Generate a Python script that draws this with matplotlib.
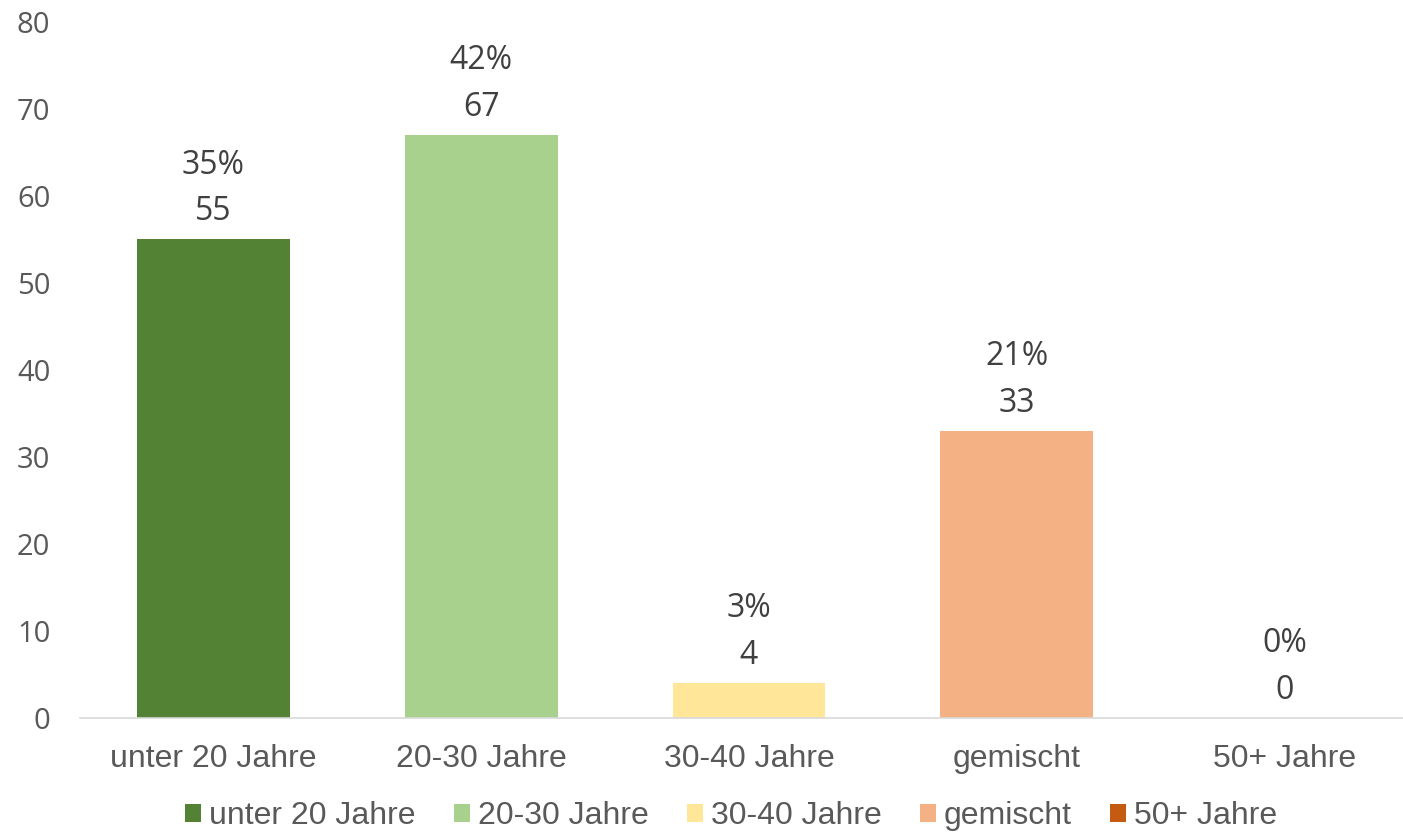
import matplotlib
matplotlib.use("Agg")
import matplotlib.pyplot as plt
from matplotlib.patches import Patch

# data
categories = ["unter 20 Jahre", "20-30 Jahre", "30-40 Jahre", "gemischt", "50+ Jahre"]
counts = [55, 67, 4, 33, 0]
percents = ["35%", "42%", "3%", "21%", "0%"]
colors = ["#548235", "#A9D18E", "#FFE699", "#F4B183", "#C55A11"]

fig = plt.figure(figsize=(14.03, 8.34), dpi=100)
ax = fig.add_axes([79.5 / 1403, 116 / 834, 1339 / 1403, 696 / 834])

x = range(len(categories))
bars = ax.bar(x, counts, width=0.57, color=colors)

for xi, c, p in zip(x, counts, percents):
    ax.annotate(f"{p}\n{c}", (xi, c), xytext=(0, 8), textcoords="offset points",
                ha="center", va="bottom", fontsize=23, color="#404040",
                family="Open Sans", linespacing=1.55)

ax.set_xlim(-0.5, 4.5)
ax.set_ylim(0, 80)
ax.set_yticks(range(0, 81, 10))
ax.set_xticks(list(x))
ax.set_xticklabels(categories, family="Liberation Sans", fontsize=23, color="#595959")
for lbl in ax.get_yticklabels():
    lbl.set_family("Open Sans")
    lbl.set_fontsize(21)
    lbl.set_color("#595959")
ax.tick_params(axis="y", length=0, pad=21)
ax.tick_params(axis="x", length=0, pad=19)

for s in ["top", "right", "left"]:
    ax.spines[s].set_visible(False)
ax.spines["bottom"].set_color("#D9D9D9")
ax.spines["bottom"].set_linewidth(1.2)

handles = [Patch(facecolor=col, label=cat) for col, cat in zip(colors, categories)]
fig.legend(handles=handles, loc="center", bbox_to_anchor=(731 / 1403, 1 - 816 / 834),
           ncol=5, frameon=False, prop={"family": "Liberation Sans", "size": 23},
           labelcolor="#595959", handlelength=0.5, handleheight=0.5,
           handletextpad=0.25, columnspacing=1.2)

fig.savefig("out.png", dpi=100)
